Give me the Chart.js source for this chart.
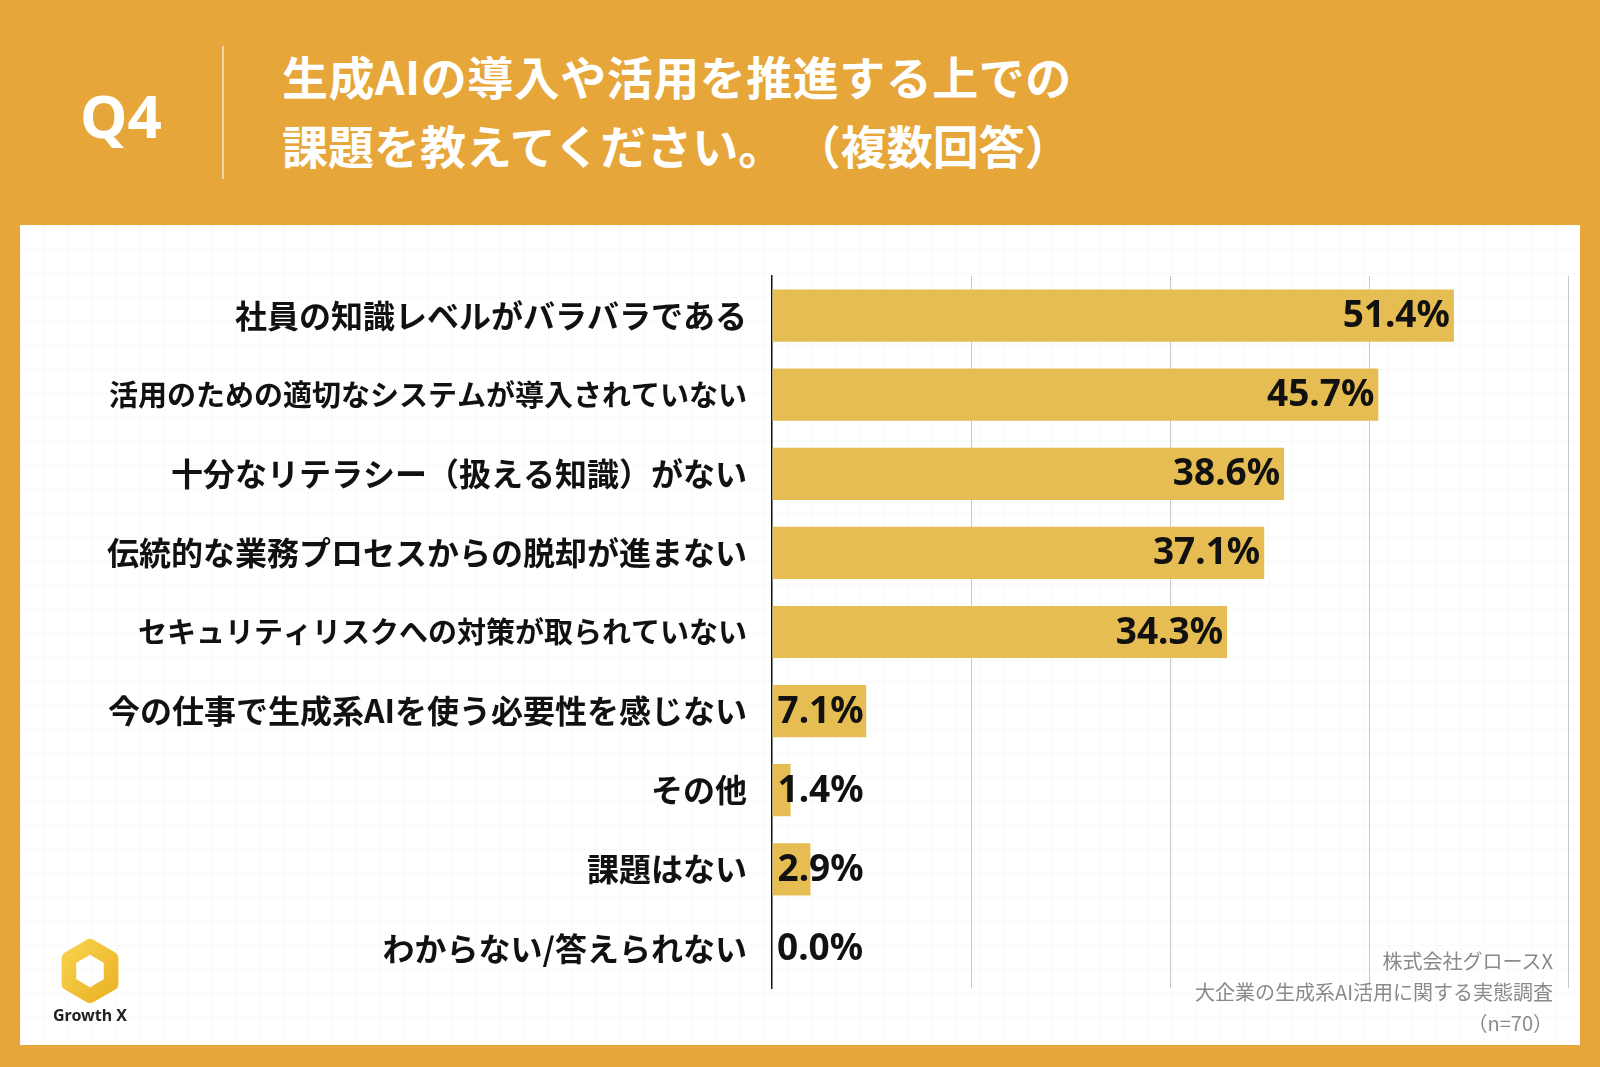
<!DOCTYPE html>
<html lang="ja">
<head>
<meta charset="UTF-8">
<title>Q4 生成AIの導入や活用を推進する上での課題</title>
<script src="https://cdn.jsdelivr.net/npm/chart.js"></script>
<style>
  html, body { margin: 0; padding: 0; }
  body {
    width: 1600px; height: 1067px; overflow: hidden; position: relative;
    background: #e6a63a;
    font-family: "Noto Sans CJK JP", "Noto Sans", sans-serif;
  }
  .qno {
    position: absolute; left: 80px; top: 74px;
    color: #fff; font: bold 60px "Noto Sans", sans-serif;
  }
  .divider {
    position: absolute; left: 222px; top: 46px; width: 2px; height: 133px;
    background: rgba(255,255,255,0.55);
  }
  .title {
    position: absolute; left: 282px; top: 41px;
    color: #fff; font-weight: bold; font-size: 46px; line-height: 69px;
  }
  .title span { letter-spacing: 0.5px; }
  .panel {
    position: absolute; left: 20px; top: 225px; width: 1560px; height: 820px;
    background-color: #fff;
    background-image:
      linear-gradient(to right, rgba(0,0,0,0.025) 1px, transparent 1px),
      linear-gradient(to bottom, rgba(0,0,0,0.025) 1px, transparent 1px);
    background-size: 24px 24px;
  }
  #chart { position: absolute; left: 0; top: 0; }
  .logo { position: absolute; left: 30px; top: 713px; width: 80px; text-align: center; }
  .logo svg { display: block; margin: 0 auto; }
  .logo div { font: bold 16px "Noto Sans", sans-serif; color: #222; margin-top: 0; }
  .source {
    position: absolute; right: 27px; top: 720px; text-align: right;
    color: #8a8a8a; font-size: 20px; line-height: 31px;
  }
</style>
</head>
<body>
  <div class="qno">Q4</div>
  <div class="divider"></div>
  <div class="title"><span>生成AIの導入や活用を推進する上での</span><br>課題を教えてください。 （複数回答）</div>

  <div class="panel">
    <canvas id="chart" width="1560" height="820"></canvas>
    <div class="logo">
      <svg width="66" height="66" viewBox="0 0 72 72">
        <defs>
          <linearGradient id="lg" x1="0" y1="0" x2="1" y2="1">
            <stop offset="0" stop-color="#f7d04a"/>
            <stop offset="1" stop-color="#eab428"/>
          </linearGradient>
        </defs>
        <polygon points="36,9 59,22.5 59,49.5 36,63 13,49.5 13,22.5"
                 fill="none" stroke="url(#lg)" stroke-width="16" stroke-linejoin="round"/>
      </svg>
      <div>Growth X</div>
    </div>
    <div class="source">株式会社グロースX<br>大企業の生成系AI活用に関する実態調査<br>（n=70）</div>
  </div>

<script>
  // values (percent, n=70)
  const categories = [
    '社員の知識レベルがバラバラである',
    '活用のための適切なシステムが導入されていない',
    '十分なリテラシー（扱える知識）がない',
    '伝統的な業務プロセスからの脱却が進まない',
    'セキュリティリスクへの対策が取られていない',
    '今の仕事で生成系AIを使う必要性を感じない',
    'その他',
    '課題はない',
    'わからない/答えられない'
  ];
  const shares = [51.4, 45.7, 38.6, 37.1, 34.3, 7.1, 1.4, 2.9, 0.0];
  const axisMax = 60;
  const axisStep = 15;

  // percent labels at bar end, or at the base when the bar is too short
  const valueLabels = {
    id: 'valueLabels',
    afterDatasetsDraw(chart) {
      const ctx = chart.ctx;
      const meta = chart.getDatasetMeta(0);
      ctx.save();
      ctx.font = 'bold 37px "Noto Sans", sans-serif';
      ctx.fillStyle = '#111';
      ctx.textBaseline = 'middle';
      meta.data.forEach((bar, i) => {
        const txt = shares[i].toFixed(1) + '%';
        const w = ctx.measureText(txt).width;
        if (bar.x - bar.base > w + 12) {
          ctx.textAlign = 'right';
          ctx.fillText(txt, bar.x - 4, bar.y + 1);
        } else {
          ctx.textAlign = 'left';
          ctx.fillText(txt, bar.base + 5, bar.y + 1);
        }
      });
      ctx.restore();
    }
  };

  // long labels are set a little tighter, as in the original
  const labelSize = i => (i === 1 || i === 4) ? 29 : 32;

  new Chart(document.getElementById('chart'), {
    type: 'bar',
    data: {
      labels: categories,
      datasets: [{
        data: shares,
        backgroundColor: '#e6bd52',
        borderWidth: 0,
        categoryPercentage: 1,
        barPercentage: 0.66
      }]
    },
    options: {
      indexAxis: 'y',
      responsive: false,
      animation: false,
      layout: { padding: { top: 51, bottom: 57, right: 12, left: 0 } },
      plugins: { legend: { display: false }, tooltip: { enabled: false } },
      scales: {
        x: {
          min: 0, max: axisMax,
          ticks: { display: false, stepSize: axisStep },
          border: { display: false },
          grid: {
            drawTicks: false,
            color: c => c.tick && c.tick.value === 0 ? 'rgba(0,0,0,0)' : '#c9c9c9',
            lineWidth: 1
          },
          afterFit: s => { s.height = 0; }
        },
        y: {
          grid: { display: false, drawTicks: false },
          border: { display: true, color: '#111', width: 1.5 },
          ticks: {
            padding: 25,
            color: '#111',
            font: c => ({
              family: '"Noto Sans CJK JP", sans-serif',
              weight: 'bold',
              size: labelSize(c.index)
            })
          },
          afterFit: s => { s.width = 752; }
        }
      }
    },
    plugins: [valueLabels]
  });
</script>
</body>
</html>
